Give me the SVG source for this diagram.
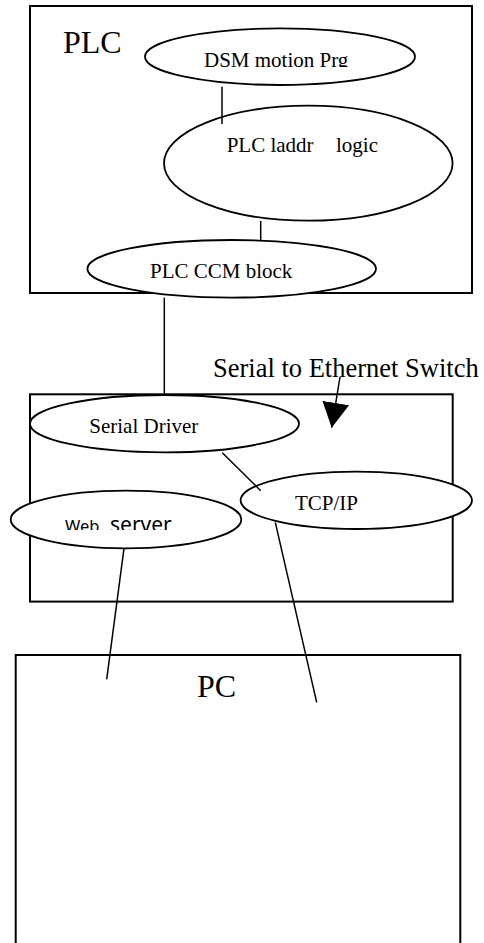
<svg xmlns="http://www.w3.org/2000/svg" width="484" height="943" viewBox="0 0 484 943">
<style>
.box{fill:none;stroke:#000;stroke-width:2}
.ell{fill:#fff;stroke:#000;stroke-width:1.8}
.con{fill:none;stroke:#000;stroke-width:1.5}
.t{font-family:"Liberation Serif","Times New Roman",serif;fill:#000}
.s{font-family:"Noto Sans","DejaVu Sans",sans-serif;fill:#000}
</style>
<defs>
<marker id="ah" markerUnits="userSpaceOnUse" markerWidth="27" markerHeight="28" refX="25" refY="13.5" orient="auto">
<path d="M0,0 L25,13.5 L0,27 z" fill="#000"/>
</marker>
<clipPath id="clipDsm"><rect x="150" y="30" width="260" height="37"/></clipPath>
<clipPath id="clipWeb"><rect x="20" y="500" width="210" height="30"/></clipPath>
</defs>
<g id="plc">
<rect class="box" x="30" y="6" width="442" height="287"/>
<text class="t" x="63" y="53" font-size="32">PLC</text>
</g>
<g id="dsm">
<ellipse class="ell" cx="280" cy="56.7" rx="135" ry="28.3"/>
<text class="t" x="204" y="66.5" font-size="21" clip-path="url(#clipDsm)">DSM motion Prg</text>
</g>
<g id="laddr">
<ellipse class="ell" cx="308.3" cy="163.2" rx="144.3" ry="57.5"/>
<text class="t" y="151.7" font-size="21"><tspan x="226.7">PLC laddr</tspan><tspan x="336">logic</tspan></text>
</g>
<g id="ccm">
<ellipse class="ell" cx="231.7" cy="268.8" rx="144.3" ry="28.8"/>
<text class="t" x="150" y="277.7" font-size="21">PLC CCM block</text>
</g>
<g id="switch">
<rect class="box" x="30" y="394.3" width="422.7" height="207.3"/>
<text class="t" x="213" y="377" font-size="26.5">Serial to Ethernet Switch</text>
</g>
<g id="serialdriver">
<ellipse class="ell" cx="164.5" cy="423.7" rx="134.5" ry="28.7"/>
<text class="t" x="89.3" y="433.3" font-size="21">Serial Driver</text>
</g>
<g id="tcpip">
<ellipse class="ell" cx="356.3" cy="500.3" rx="115.7" ry="28.7"/>
<text class="t" x="295" y="510" font-size="21">TCP/IP</text>
</g>
<g id="webserver">
<ellipse class="ell" cx="126" cy="519.5" rx="115.3" ry="28.8"/>
<text class="s" y="532" clip-path="url(#clipWeb)"><tspan x="65" font-size="16.5">Web</tspan><tspan x="110" font-size="21">server</tspan></text>
</g>
<g id="pc">
<path class="box" d="M15.7,950 V655 H460.3 V950"/>
<text class="t" x="197" y="696.7" font-size="32">PC</text>
</g>
<g id="connectors">
<line class="con" x1="222" y1="86.7" x2="222" y2="124"/>
<line class="con" x1="260.7" y1="221" x2="260.7" y2="240"/>
<line class="con" x1="164.3" y1="297.7" x2="164.3" y2="394"/>
<line class="con" x1="222.3" y1="452.7" x2="260.7" y2="490.7"/>
<line class="con" x1="124" y1="548.3" x2="106.7" y2="679.3"/>
<line class="con" x1="275.3" y1="522.3" x2="316.7" y2="702.3"/>
<line class="con" x1="340" y1="377" x2="331.7" y2="427.7" marker-end="url(#ah)"/>
</g>
</svg>
